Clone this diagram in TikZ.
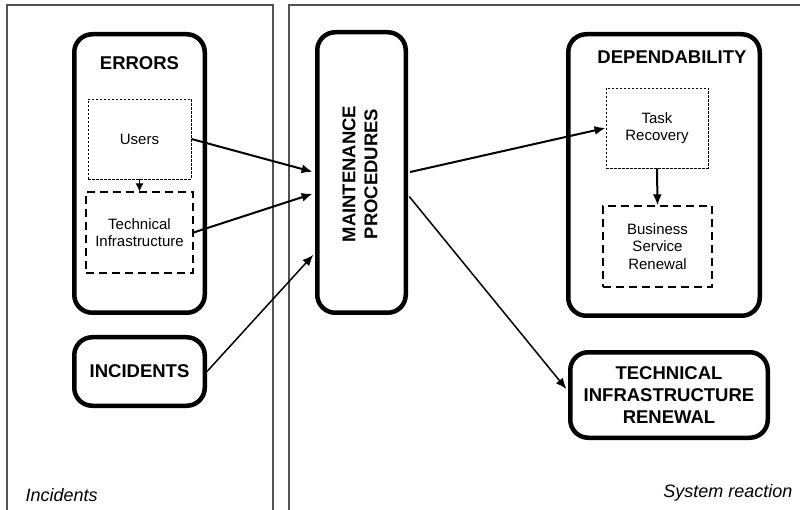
\documentclass[tikz,border=0pt]{standalone}
\usepackage{fontspec}
\setmainfont{Liberation Sans}
\usetikzlibrary{arrows.meta}
\begin{document}
\begin{tikzpicture}[x=1pt,y=-1pt,
  panel/.style={draw=black!68, line width=1.5pt},
  bigbox/.style={draw, line width=4.5pt, rounded corners=18pt, inner sep=0pt},
  innertext/.style={align=center, font=\fontsize{15}{17.5}\selectfont},
  dotbox/.style={innertext, draw, line width=0.9pt, dash pattern=on 2.5pt off 1.5pt, inner sep=0pt},
  dashbox/.style={innertext, draw, line width=1.2pt, dash pattern=on 8pt off 5pt, inner sep=0pt},
  heading/.style={font=\bfseries\fontsize{18.5}{22}\selectfont, align=center},
  caption/.style={font=\itshape\fontsize{18}{21}\selectfont},
  flow/.style={-{Latex[length=11pt,width=9pt]}, line width=2pt},
  thinflow/.style={-{Latex[length=11pt,width=9pt]}, line width=1.5pt},
]
\useasboundingbox (0,0) rectangle (800,510);

% the two swim lanes
\draw[panel] (7,515) -- (7,5) -- (273,5) -- (273,515);
\draw[panel] (289,515) -- (289,5) -- (805,5);
\node[caption, anchor=base west] (lanea) at (22,501) {Incidents};
\node[caption, anchor=base east] (laneb) at (796,497) {System reaction};

% incident sources
\node[bigbox, minimum width=130.5pt, minimum height=278.5pt] (errors) at (139.5,173.5) {};
\node[heading] (errtitle) at (139.5,63) {ERRORS};
\node[dotbox, minimum width=103pt, minimum height=80pt] (users) at (139.5,139) {Users};
\node[dashbox, minimum width=107pt, minimum height=81pt] (tech) at (139.5,232.5) {Technical\\Infrastructure};
\node[bigbox, heading, minimum width=130.5pt, minimum height=68.5pt] (incidents) at (139.5,371.5) {INCIDENTS};

% maintenance
\node[bigbox, minimum width=88.5pt, minimum height=280.5pt] (maint) at (361.5,172.5) {};
\node[heading, rotate=90] (mainttext) at (360,174) {MAINTENANCE\\PROCEDURES};

% system reaction
\node[bigbox, minimum width=191.5pt, minimum height=281.5pt] (dep) at (664,175) {};
\node[heading] (deptitle) at (672,57) {DEPENDABILITY};
\node[dotbox, minimum width=102pt, minimum height=80pt] (task) at (657,128) {Task\\Recovery};
\node[dashbox, minimum width=109pt, minimum height=81pt] (biz) at (657.5,246.5) {Business\\Service\\Renewal};
\node[bigbox, heading, minimum width=197.5pt, minimum height=85.5pt] (tir) at (669,395) {TECHNICAL\\INFRASTRUCTURE\\RENEWAL};

% connectors
\draw[-{Latex[length=8pt,width=8pt]}, line width=0.9pt] (users.south) -- (tech.north);
\draw[flow] (task.south) -- (biz.north);
\draw[flow, shorten >=2.5pt] (users.east) -- (maint.west);
\draw[flow, shorten >=2.5pt] (tech.east) -- ([yshift=-20.5pt]maint.west);
\draw[thinflow, shorten >=2.5pt] (incidents.east) -- ([yshift=-80.5pt]maint.west);
\draw[flow, shorten <=2pt] (maint.east) -- (task.west);
\draw[thinflow, shorten <=2pt, shorten >=2.5pt] ([yshift=-22.5pt]maint.east) -- ([yshift=4pt]tir.west);
\end{tikzpicture}
\end{document}
